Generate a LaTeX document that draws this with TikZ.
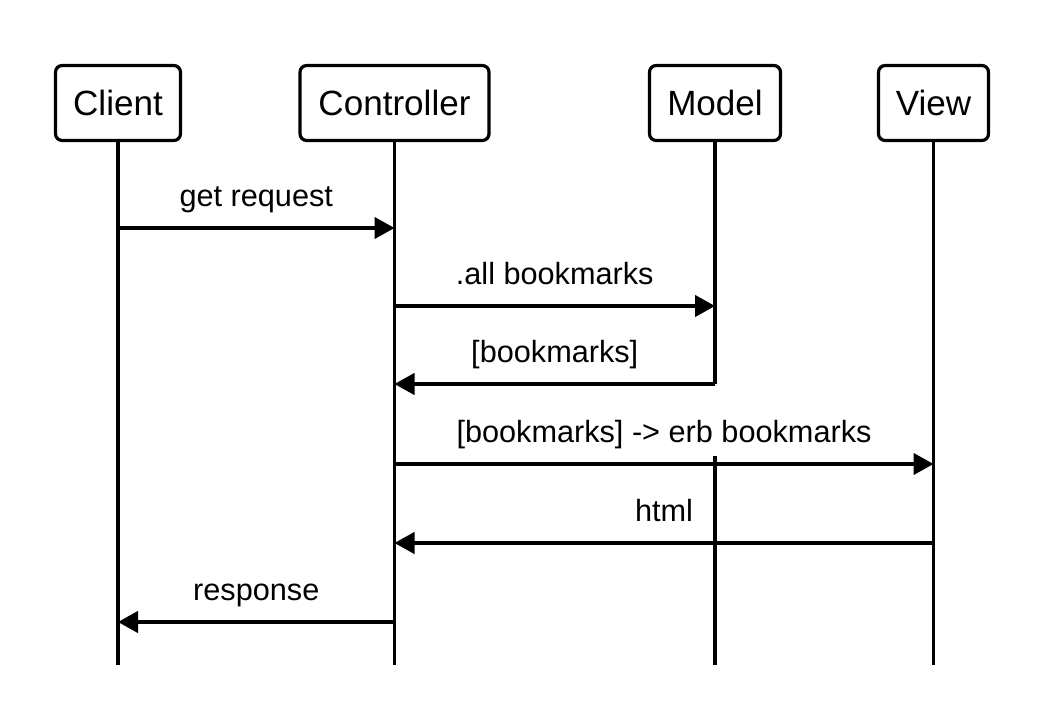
\documentclass[tikz,border=0pt]{standalone}
\usepackage{fontspec}
\setmainfont{Liberation Sans}
\usetikzlibrary{arrows.meta}
\begin{document}
\begin{tikzpicture}[x=0.75pt,y=-0.75pt,
  actor/.style={draw, line width=2.4pt, rounded corners=5pt, minimum height=56.25pt,
    inner sep=0pt, font=\fontsize{26.3}{30}\selectfont, fill=white},
  life/.style={line width=2.4pt},
  msg/.style={line width=2.4pt, -{Triangle[length=15pt,width=16pt]}},
  lbl/.style={midway, anchor=base, yshift=16pt, font=\fontsize{23}{27}\selectfont, inner sep=0pt}]
\useasboundingbox (0,0) rectangle (1060,724);
% actors
\node[actor, minimum width=93.75pt] (client) at (118,103) {Client};
\node[actor, minimum width=141.75pt] (ctrl) at (394.5,103) {Controller};
\node[actor, minimum width=98.25pt] (model) at (715,103) {Model};
\node[actor, minimum width=82.5pt] (view) at (933.5,103) {View};
% lifeline ends
\coordinate (clientEnd) at (118,665);
\coordinate (ctrlEnd) at (394.5,665);
\coordinate (modelStop) at (715,384);
\coordinate (modelRestart) at (715,456);
\coordinate (modelEnd) at (715,665);
\coordinate (viewEnd) at (933.5,665);
\draw[life] (client.south) -- (clientEnd);
\draw[life] (ctrl.south) -- (ctrlEnd);
\draw[life] (model.south) -- (modelStop);
\draw[life] (modelRestart) -- (modelEnd);
\draw[life] (view.south) -- (viewEnd);
% message points
\coordinate (m1a) at (118,228);   \coordinate (m1b) at (394.5,228);
\coordinate (m2a) at (394.5,306); \coordinate (m2b) at (715,306);
\coordinate (m3a) at (715,384);   \coordinate (m3b) at (394.5,384);
\coordinate (m4a) at (394.5,464); \coordinate (m4b) at (933.5,464);
\coordinate (m5a) at (933.5,543); \coordinate (m5b) at (394.5,543);
\coordinate (m6a) at (394.5,622); \coordinate (m6b) at (118,622);
\draw[msg] (m1a) -- (m1b) node[lbl] {get request};
\draw[msg] (m2a) -- (m2b) node[lbl] {.all bookmarks};
\draw[msg] (m3a) -- (m3b) node[lbl] {[bookmarks]};
\draw[msg] (m4a) -- (m4b) node[lbl] {[bookmarks] -> erb bookmarks};
\draw[msg] (m5a) -- (m5b) node[lbl] {html};
\draw[msg] (m6a) -- (m6b) node[lbl] {response};
\end{tikzpicture}
\end{document}
